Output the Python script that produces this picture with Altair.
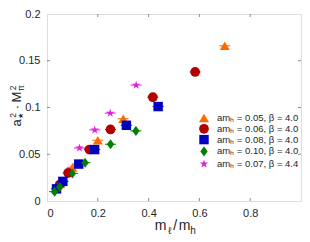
import altair as alt
import pandas as pd

# ---------------- data ----------------
series_labels = [
    "amₕ = 0.05, β = 4.0",
    "amₕ = 0.06, β = 4.0",
    "amₕ = 0.08, β = 4.0",
    "amₕ = 0.10, β = 4.0",
    "amₕ = 0.07, β = 4.4",
]
series_colors = ["#FF6A00", "#B20000", "#0000BF", "#008000", "#E01EE0"]

x_005 = [0.10, 0.20, 0.30, 0.70]
y_005 = [0.036, 0.065, 0.088, 0.166]

x_006 = [0.050, 0.0833, 0.1667, 0.250, 0.4167, 0.5833]
y_006 = [0.0175, 0.030, 0.055, 0.0765, 0.111, 0.138]

x_008 = [0.0375, 0.0625, 0.125, 0.1875, 0.3125, 0.4375]
y_008 = [0.013, 0.021, 0.0395, 0.055, 0.081, 0.101]

x_010 = [0.03, 0.05, 0.10, 0.15, 0.25, 0.35]
y_010 = [0.010, 0.015, 0.0295, 0.041, 0.0607, 0.075]

x_007 = [0.128, 0.188, 0.249, 0.351]
y_007 = [0.0567, 0.076, 0.094, 0.124]

x_ticks = [0, 0.2, 0.4, 0.6, 0.8]
y_ticks = [0, 0.05, 0.1, 0.15, 0.2]
x_inner_ticks = [0.2, 0.4, 0.6, 0.8]
y_inner_ticks = [0.05, 0.1, 0.15]

# ---------------- table ----------------
xs = [x_005, x_006, x_008, x_010, x_007]
ys = [y_005, y_006, y_008, y_010, y_007]
rows = []
for k, (lab, xv, yv) in enumerate(zip(series_labels, xs, ys)):
    for a, b in zip(xv, yv):
        rows.append({"series": lab, "x": a, "y": b, "k": k})
df = pd.DataFrame(rows)

W, H = 254, 187
FONT = "Liberation Sans"
TXT = "#262626"
FRAME = "#8a8a8a"

STAR = ("M0,-1L0.225,-0.309L0.951,-0.309L0.363,0.118L0.588,0.809L0,0.382"
        "L-0.588,0.809L-0.363,0.118L-0.951,-0.309L-0.225,-0.309Z")
DIAMOND = "M0,-1.1L0.8,0L0,1.1L-0.8,0Z"
shapes = ["triangle-up", "circle", "square", DIAMOND, STAR]

xscale = alt.Scale(domain=[0, 1], nice=False, zero=False)
yscale = alt.Scale(domain=[0, 0.2], nice=False, zero=False)
cscale = alt.Scale(domain=series_labels, range=series_colors)

X_AX = alt.Axis(values=x_ticks, format="~g", grid=False, ticks=False, domain=False,
                labelFont=FONT, labelFontSize=11, labelColor=TXT, labelPadding=6, title=None)
Y_AX = alt.Axis(values=y_ticks, format="~g", grid=False, ticks=False, domain=False,
                labelFont=FONT, labelFontSize=11, labelColor=TXT, labelPadding=7, title=None)

leg = alt.Legend(
    orient="none", legendX=152, legendY=99, title=None,
    labelFont=FONT, labelFontSize=9.5, labelColor=TXT,
    symbolSize=85, rowPadding=0.8, labelOffset=8, padding=0,
    symbolStrokeWidth=0, symbolOpacity=1,
)

base = alt.Chart(df)

errbars = base.mark_tick(orient="horizontal", size=11, thickness=1, opacity=1).encode(
    x=alt.X("x:Q", scale=xscale, axis=X_AX),
    y=alt.Y("y:Q", scale=yscale, axis=Y_AX),
    color=alt.Color("series:N", scale=cscale, legend=leg),
)

points = base.mark_point(filled=True, opacity=1, strokeWidth=0).encode(
    x=alt.X("x:Q", scale=xscale, axis=X_AX),
    y=alt.Y("y:Q", scale=yscale, axis=Y_AX),
    color=alt.Color("series:N", scale=cscale, legend=leg),
    shape=alt.Shape("series:N", scale=alt.Scale(domain=series_labels, range=shapes), legend=leg),
    size=alt.Size("series:N", scale=alt.Scale(domain=series_labels, range=[100, 78, 50, 75, 100]), legend=None),
    order=alt.Order("k:Q"),
)

xt = alt.Chart(pd.DataFrame({"x": x_inner_ticks}))
yt = alt.Chart(pd.DataFrame({"y": y_inner_ticks}))
tick_style = dict(color=FRAME, strokeWidth=1)
t_bottom = xt.mark_rule(**tick_style).encode(x=alt.X("x:Q", scale=xscale, axis=X_AX), y=alt.value(H), y2=alt.value(H - 3))
t_top = xt.mark_rule(**tick_style).encode(x=alt.X("x:Q", scale=xscale, axis=X_AX), y=alt.value(0), y2=alt.value(3))
t_left = yt.mark_rule(**tick_style).encode(y=alt.Y("y:Q", scale=yscale, axis=Y_AX), x=alt.value(0), x2=alt.value(3))
t_right = yt.mark_rule(**tick_style).encode(y=alt.Y("y:Q", scale=yscale, axis=Y_AX), x=alt.value(W), x2=alt.value(W - 3))

one = pd.DataFrame({"a": [0]})


def piece(text, x, y, size, angle=0, baseline="alphabetic"):
    return alt.Chart(one).mark_text(
        text=text, font=FONT, fontSize=size, color=TXT, align="center",
        baseline=baseline, angle=angle,
    ).encode(x=alt.value(x), y=alt.value(y))


# x-axis title: m_ℓ / m_h
xb = H + 29
cx = W / 2
xtitle = [
    piece("m", cx - 13.5, xb, 14),
    piece("ℓ", cx - 4.5, xb + 3.5, 10),
    piece("/", cx + 1.2, xb, 14),
    piece("m", cx + 10.5, xb, 14),
    piece("h", cx + 19, xb + 3.5, 10),
]

# y-axis title: a²★ · M²π (rotated)
yx = -30
cy = H / 2 - 2
ytitle = [
    piece("a", yx, cy + 17.5, 13, 270, "middle"),
    piece("2", yx - 4.5, cy + 10, 8.5, 270, "middle"),
    piece("★", yx + 3.5, cy + 10, 7, 270, "middle"),
    piece("·", yx, cy + 1.5, 13, 270, "middle"),
    piece("M", yx, cy - 8.5, 13, 270, "middle"),
    piece("2", yx - 4.5, cy - 17.5, 8.5, 270, "middle"),
    piece("π", yx + 3.5, cy - 17.5, 8.5, 270, "middle"),
]

chart = alt.layer(
    t_bottom, t_top, t_left, t_right, errbars, points, *xtitle, *ytitle
).properties(
    width=W, height=H,
    autosize=alt.AutoSizeParams(type="none"),
    padding={"left": 39, "top": 6, "right": 1, "bottom": 33},
).configure_view(
    stroke=FRAME, strokeWidth=1
).configure(
    background="white"
)

chart.save("out.html", embed_options={"renderer": "svg", "actions": False})
